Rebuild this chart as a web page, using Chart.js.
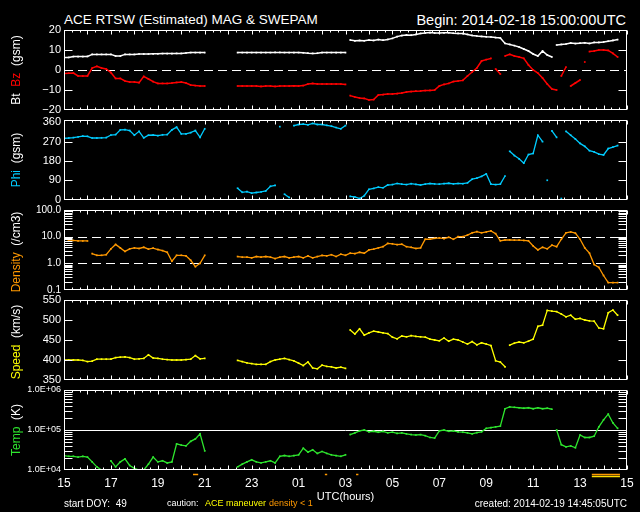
<!DOCTYPE html>
<html><head><meta charset="utf-8">
<script src="https://cdn.jsdelivr.net/npm/chart.js@4"></script>
<style>
body{margin:0;background:#000;}
#wrap{position:relative;width:640px;height:512px;overflow:hidden;background:#000;font-family:"Liberation Sans",Arial,sans-serif;color:#fff}
canvas{position:absolute;left:0}
.t{position:absolute;white-space:nowrap;line-height:1}
.yl{position:absolute;white-space:nowrap;line-height:1;font-size:12px;transform:translate(-50%,-50%) rotate(-90deg)}
</style></head>
<body><div id="wrap">
<div class="t" style="left:64px;top:13px;font-size:13.5px">ACE RTSW (Estimated) MAG &amp; SWEPAM</div>
<div class="t" style="right:14px;top:13px;font-size:14.5px">Begin: 2014-02-18 15:00:00UTC</div>
<canvas id="c1" width="640" height="100" style="top:20px"></canvas>
<canvas id="c2" width="640" height="100" style="top:110px"></canvas>
<canvas id="c3" width="640" height="100" style="top:200px"></canvas>
<canvas id="c4" width="640" height="100" style="top:290px"></canvas>
<canvas id="c5" width="640" height="125" style="top:380px"></canvas>
<div class="yl" style="left:16px;top:70px">Bt&nbsp;&nbsp;<span style="color:#ff0000">Bz</span>&nbsp;&nbsp;(gsm)</div>
<div class="yl" style="left:16px;top:160px"><span style="color:#00ccff">Phi</span>&nbsp;&nbsp;(gsm)</div>
<div class="yl" style="left:16px;top:252px"><span style="color:#ff9900">Density</span>&nbsp;&nbsp;(/cm3)</div>
<div class="yl" style="left:16px;top:342px"><span style="color:#ffff00">Speed</span>&nbsp;&nbsp;(km/s)</div>
<div class="yl" style="left:16px;top:430px"><span style="color:#2ee62e">Temp</span>&nbsp;&nbsp;(K)</div>
<div class="t" style="left:64px;top:499px;font-size:10px">start DOY:&nbsp;&nbsp;49</div>
<div class="t" style="left:167px;top:499px;font-size:9px">caution:</div>
<div class="t" style="left:205px;top:499px;font-size:9px;color:#ffff00">ACE maneuver</div>
<div class="t" style="left:269px;top:499px;font-size:9px;color:#ff9900">density &lt; 1</div>
<div class="t" style="right:13px;top:499px;font-size:10px">created: 2014-02-19 14:45:05UTC</div>
</div>
<script>
// time axis: hours since 2014-02-18 15:00 UTC, 0.2 h steps
const hours = Array.from({length:121},(_,i)=>i*2/10);
const xTickHours = [0,2,4,6,8,10,12,14,16,18,20,22,24];
const xTickLabels = ['15','17','19','21','23','01','03','05','07','09','11','13','15'];

const BT = [
6.2,6.3,6.7,6.7,6.7, 6.8,7.8,7.8,7.8,7.8, 7.8,7.0,7.0,7.8,7.8, 7.8,8.0,8.0,8.0,8.1,
8.1,8.2,8.2,8.2,8.3, 8.3,8.5,8.7,8.7,8.7, 8.7,null,null,null,null, null,null,8.7,8.7,8.7,
8.7,8.7,8.7,8.7,8.7, 8.8,8.8,8.7,8.7,8.7, 8.7,8.6,8.4,8.3,8.4, 8.7,8.7,8.7,8.7,8.7,
8.7,15.0,14.6,14.8,14.6, 15.0,14.8,15.2,14.9,15.3, 15.8,16.7,17.2,17.5,17.4, 17.8,18.3,18.5,18.7,18.5,
18.5,18.6,18.6,18.4,18.3, 18.2,17.8,17.3,17.0,16.8, 16.6,16.5,16.2,16.0,13.3, 12.8,12.2,11.5,10.5,9.5,
8.0,7.0,9.5,7.5,6.5, 12.5,12.8,13.0,13.5,13.2, 13.4,13.6,13.3,13.8,13.8, 14.0,14.4,14.8,15.2,null,
null];
const BZ = [
-1.8,-1.6,-1.5,-3.0,-3.0, -3.0,1.0,1.8,1.0,0.5, -1.3,-4.2,-4.2,-5.5,-6.0, -6.0,-6.3,-3.2,-4.5,-5.8,
-6.7,-6.7,-6.7,-6.5,-6.2, -6.0,-6.5,-7.5,-7.8,-8.0, -8.0,null,null,null,null, null,null,-8.0,-8.0,-8.0,
-8.0,-8.0,-8.2,-8.0,-8.0, -8.2,-8.0,-8.0,-8.0,-7.9, -8.0,-7.8,-7.0,-6.7,-7.0, -7.0,-7.0,-7.0,-7.0,-7.0,
-7.2,-12.8,-13.5,-14.0,-14.2, -15.0,-14.8,-12.5,-12.3,-12.0, -12.0,-11.8,-11.5,-11.0,-10.8, -10.6,-10.5,-10.3,-10.2,-10.0,
-8.0,-7.2,-6.7,-5.8,-5.5, -5.2,-3.0,-1.0,1.0,4.5, 5.2,5.8,0.5,-2.0,7.0, 7.8,7.0,6.5,5.8,2.5,
0.0,-1.5,-4.0,-7.0,-9.5, -10.0,-3.0,1.5,-8.0,-6.5, -5.0,4.0,9.2,9.5,10.0, 10.0,9.8,8.3,6.5,null,
null];
const PHI = [
286,287,289,292,296, 295,287,287,288,289, 301,303,325,326,322, 300,318,288,300,301,
298,302,303,325,338, 306,306,312,322,290, 330,null,null,null,null, null,null,53,34,37,
30,33,36,40,62, 66,340,25,10,345, 350,352,348,355,350, 350,346,342,336,330,
345,15,12,5,18, 48,52,58,55,68, 70,75,72,70,74, 71,68,72,75,73,
72,74,76,73,75, 74,78,95,100,108, 120,72,70,72,110, 225,205,190,170,210,
215,300,270,90,320, 290,5,318,300,282, 262,248,228,222,212, 208,238,245,252,null,
null];
const DENSITY = [
8.7,7.5,7.2,7.0,6.9, 6.9,2.3,2.0,2.0,2.1, 3.5,5.1,3.8,2.8,3.5, 3.8,3.6,4.0,3.4,3.7,
3.3,3.0,2.6,1.2,2.0, 2.0,1.9,1.3,0.75,1.0, 2.0,null,null,null,null, null,null,1.8,1.7,1.7,
1.6,1.8,1.7,1.8,1.7, 1.5,1.7,1.8,1.6,1.7, 1.8,1.6,1.9,1.6,1.8, 2.0,1.9,2.1,1.8,2.2,
2.0,2.4,2.3,2.6,2.4, 3.2,3.4,3.8,4.2,5.6, 5.4,5.0,5.2,4.2,4.0, 3.6,3.8,8.0,8.0,8.7,
9.0,8.5,9.5,8.0,10.0, 10.0,11.5,14.0,15.5,14.0, 15.0,16.5,13.0,7.0,7.5, 7.6,7.4,7.4,7.2,7.0,
4.5,3.2,4.0,3.5,4.8, 4.2,8.0,14.0,15.0,13.5, 8.0,3.8,2.4,0.9,0.7, 0.35,0.19,0.19,0.19,null,
null];
const SPEED = [
400,400,400,400,399, 396,397,402,402,402, 402,406,407,408,406, 402,403,404,413,405,
404,402,401,400,400, 400,401,402,411,403, 404,null,null,null,null, null,null,399,396,393,
391,389,389,389,396, 400,402,404,401,398, 392,386,395,380,378, 387,384,383,380,382,
379,475,465,478,462, 468,472,470,468,466, 457,453,460,458,461, 459,458,457,452,450,
448,455,447,452,450, 445,440,446,438,443, 440,436,398,395,383, 437,442,445,443,447,
452,484,487,524,522, 521,515,508,512,502, 504,500,498,497,480, 478,518,525,512,null,
null];
const TEMP = [
2.3e4,2.2e4,2.2e4,2.1e4,2.2e4, 2.1e4,1.6e4,1.2e4,1.0e4,null, 1.7e4,1.2e4,1.6e4,1.9e4,1.3e4, 1.1e4,1.0e4,1.0e4,1.4e4,2.1e4,
1.6e4,1.7e4,1.5e4,1.6e4,4.5e4, 4.2e4,4.0e4,5.2e4,6.0e4,8.0e4, 3.0e4,null,null,null,null, null,null,1.2e4,1.4e4,1.6e4,
1.8e4,1.6e4,1.5e4,1.6e4,1.7e4, 1.5e4,2.2e4,2.3e4,2.2e4,2.3e4, 2.4e4,3.5e4,2.8e4,3.2e4,2.6e4, 2.9e4,2.6e4,2.4e4,2.3e4,2.2e4,
2.4e4,7.7e4,8.5e4,9.5e4,1.0e5, 9.0e4,9.3e4,8.8e4,9.2e4,8.5e4, 8.8e4,8.2e4,8.5e4,8.0e4,7.7e4, 7.5e4,7.7e4,7.2e4,6.5e4,6.3e4,
9.5e4,1.0e5,9.3e4,9.5e4,9.0e4, 8.8e4,8.5e4,8.0e4,8.6e4,9.0e4, 1.1e5,1.15e5,1.2e5,1.25e5,3.4e5, 3.8e5,3.7e5,3.6e5,3.5e5,3.6e5,
3.4e5,3.6e5,3.4e5,3.5e5,3.3e5, 1.0e5,4.3e4,3.8e4,4.0e4,3.6e4, 7.5e4,6.5e4,6.5e4,7.0e4,1.2e5, 1.8e5,2.5e5,1.5e5,1.1e5,null,
null];

const magTicks = [20,10,0,-10,-20];
const magTickLabels = ['20','10','0','\u221210','\u221220'];
const phiTicks = [360,270,180,90,0];
const phiTickLabels = ['360','270','180','90','0'];
const denTicks = [100,10,1,0.1];
const denTickLabels = ['100.0','10.0','1.0','0.1'];
const spdTicks = [550,500,450,400,350];
const spdTickLabels = ['550','500','450','400','350'];
const tmpTicks = [1e6,1e5,1e4];
const tmpTickLabels = ['1.0E+06','1.0E+05','1.0E+04'];

// caution intervals (hours)
const cautionDensityLow = [[5.5,5.72],[11.12,11.22],[12.45,12.55],[22.5,23.7]];
const cautionManeuver = [[22.5,23.7]];

const FONT = '"Liberation Sans", Arial, sans-serif';

const lin = th => (a,b) => Math.abs(a-b) > th;
const lg = th => (a,b) => Math.abs(Math.log10(a/b)) > th;

function ds(vals, color, jump, bw){
  return {
    data: hours.map((h,i)=>({x:h, y:vals[i]})),
    borderColor: color, backgroundColor: color,
    borderWidth: bw || 1.3, pointRadius: 1.2, pointStyle: 'rect',
    pointBorderWidth: 0, pointHoverRadius: 0, tension: 0, spanGaps: false,
    segment: { borderColor: c => jump(c.p0.parsed.y, c.p1.parsed.y) ? 'rgba(0,0,0,0)' : color }
  };
}

function logMinor(min, max){
  const out = [];
  for (let e = Math.floor(Math.log10(min)); e <= Math.ceil(Math.log10(max)); e++)
    for (let m = 1; m <= 9; m++){ const v = m*Math.pow(10,e); if (v >= min*1.0001 && v <= max/1.0001) out.push(v); }
  return out;
}

const framePlugin = {
  id: 'frame',
  beforeDatasetsDraw(chart, a, o){
    const {ctx, chartArea: ca, scales: {y}} = chart;
    ctx.save();
    ctx.strokeStyle = '#fff'; ctx.lineWidth = 1;
    (o.refs || []).forEach(r => {
      const py = Math.round(y.getPixelForValue(r.v)) + 0.5;
      ctx.setLineDash(r.dash ? [9,5] : []);
      ctx.beginPath(); ctx.moveTo(ca.left, py); ctx.lineTo(ca.right, py); ctx.stroke();
    });
    ctx.restore();
  },
  afterDatasetsDraw(chart, a, o){
    const {ctx, chartArea: ca, scales: {x, y}} = chart;
    ctx.save();
    ctx.strokeStyle = '#fff'; ctx.lineWidth = 1; ctx.setLineDash([]);
    const L = Math.round(ca.left) + 0.5, R = Math.round(ca.right) - 0.5;
    const T = Math.round(ca.top) + 0.5, B = Math.round(ca.bottom) - 0.5;
    ctx.strokeRect(L, T, R - L, B - T);
    ctx.beginPath();
    for (let k = 0; k <= 72; k++){
      const px = Math.round(x.getPixelForValue(k/3)) + 0.5;
      const len = (k % 3 === 0) ? 4 : 2;
      ctx.moveTo(px, T); ctx.lineTo(px, T + len);
      ctx.moveTo(px, B); ctx.lineTo(px, B - len);
    }
    (o.yt || []).forEach(v => {
      const py = Math.round(y.getPixelForValue(v)) + 0.5;
      ctx.moveTo(L, py); ctx.lineTo(L + 8, py);
      ctx.moveTo(R, py); ctx.lineTo(R - 8, py);
    });
    ctx.stroke();
    ctx.restore();
  },
  afterDraw(chart, a, o){
    if (!o.caution) return;
    const {ctx, chartArea: ca, scales: {x}} = chart;
    ctx.save(); ctx.lineWidth = 1.5;
    const bands = [[cautionDensityLow, '#ff9900', 4.5], [cautionManeuver, '#ffdd00', 6.5]];
    bands.forEach(([list, col, dy]) => {
      ctx.strokeStyle = col;
      list.forEach(([s, e]) => {
        ctx.beginPath();
        ctx.moveTo(x.getPixelForValue(s), ca.bottom + dy);
        ctx.lineTo(x.getPixelForValue(e), ca.bottom + dy);
        ctx.stroke();
      });
    });
    ctx.restore();
  }
};

function panel(id, o){
  const showX = !!o.showX;
  const xScale = showX ? {
    type: 'linear', min: 0, max: 24, display: true,
    afterFit(s){ s.height = 35; },
    grid: {display: false, drawTicks: false}, border: {display: false},
    afterBuildTicks(s){ s.ticks = xTickHours.map(v => ({value: v})); },
    ticks: {color: '#fff', font: {family: FONT, size: 12}, padding: 6, maxRotation: 0, autoSkip: false,
            callback: (v, i) => xTickLabels[i]},
    title: {display: true, text: 'UTC(hours)', color: '#fff', font: {family: FONT, size: 11}, padding: {top: 0, bottom: 1}}
  } : {type: 'linear', min: 0, max: 24, display: false};
  return new Chart(document.getElementById(id), {
    type: 'line',
    data: {datasets: o.datasets},
    options: {
      responsive: false, animation: false, events: [], devicePixelRatio: 1,
      layout: {padding: {left: 0, right: 13, top: 10, bottom: showX ? 0 : 10}},
      plugins: {legend: {display: false}, tooltip: {enabled: false},
                frame: {refs: o.refs, yt: o.yt, caution: o.caution}},
      scales: {
        x: xScale,
        y: {
          type: o.type, min: o.min, max: o.max,
          afterFit(s){ s.width = 64; },
          grid: {display: false, drawTicks: false}, border: {display: false},
          afterBuildTicks(s){ s.ticks = o.ticks.map(v => ({value: v})); },
          ticks: {color: '#fff', font: {family: FONT, size: o.fs}, padding: 3, autoSkip: false,
                  callback: (v, i) => o.labels[i]}
        }
      }
    },
    plugins: [framePlugin]
  });
}

panel('c1', {type: 'linear', min: -20, max: 20, ticks: magTicks, labels: magTickLabels, fs: 11,
  refs: [{v: 0, dash: true}], yt: [10, -10],
  datasets: [ds(BT, '#ffffff', lin(5), 1.5), ds(BZ, '#ff0000', lin(5), 1.5)]});
panel('c2', {type: 'linear', min: -2, max: 371, ticks: phiTicks, labels: phiTickLabels, fs: 11,
  refs: [], yt: [270, 180, 90],
  datasets: [ds(PHI, '#00ccff', lin(110))]});
panel('c3', {type: 'logarithmic', min: 0.1, max: 100, ticks: denTicks, labels: denTickLabels, fs: 10,
  refs: [{v: 10, dash: true}, {v: 1, dash: true}], yt: logMinor(0.1, 100),
  datasets: [ds(DENSITY, '#ff9900', lg(0.45))]});
panel('c4', {type: 'linear', min: 350, max: 550, ticks: spdTicks, labels: spdTickLabels, fs: 11,
  refs: [], yt: [500, 450, 400],
  datasets: [ds(SPEED, '#ffff00', lin(40))]});
panel('c5', {type: 'logarithmic', min: 1e4, max: 1e6, ticks: tmpTicks, labels: tmpTickLabels, fs: 9,
  refs: [{v: 1e5, dash: false}], yt: logMinor(1e4, 1e6), showX: true, caution: true,
  datasets: [ds(TEMP, '#2ee62e', lg(0.45))]});
</script>
</body></html>
